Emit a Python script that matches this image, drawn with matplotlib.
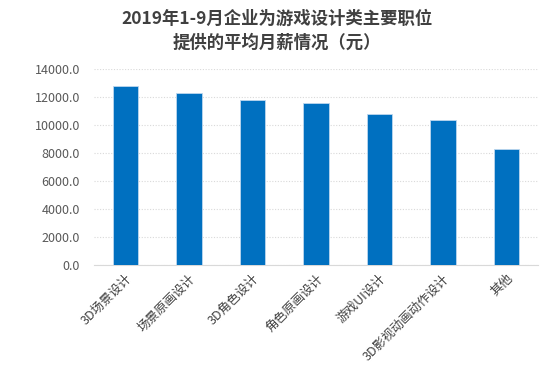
import matplotlib
matplotlib.use("Agg")
import matplotlib.pyplot as plt

categories = ["3D场景设计", "场景原画设计", "3D角色设计", "角色原画设计", "游戏UI设计", "3D影视动画动作设计", "其他"]
values = [12830, 12340, 11840, 11620, 10810, 10380, 8330]
yticks = [0, 2000, 4000, 6000, 8000, 10000, 12000, 14000]
title = "2019年1-9月企业为游戏设计类主要职位\n提供的平均月薪情况（元）"

plt.rcParams['font.family'] = ['Noto Sans CJK SC', 'DejaVu Sans']

fig = plt.figure(figsize=(5.48, 3.65), dpi=100)
ax = fig.add_axes([0.1715, 0.274, 0.8105, 0.536])

x = list(range(len(categories)))
ax.bar(x, values, width=0.40, color="#0070C0", edgecolor="#BDD7EE", linewidth=0.6, zorder=3)

ax.set_xlim(-0.5, len(categories) - 0.5)
ax.set_ylim(0, 14000)
ax.set_yticks(yticks)
ax.set_yticklabels([f"{v:.1f}" for v in yticks], fontsize=9, color="#595959")
ax.set_xticks(x)
ax.set_xticklabels(categories, rotation=45, ha="right", rotation_mode="anchor",
                   fontsize=9, color="#404040")
ax.tick_params(axis="both", length=0)
ax.tick_params(axis="y", pad=10)
ax.tick_params(axis="x", pad=5)

ax.grid(axis="y", linestyle=(0, (1, 1.5)), color="#D9D9D9", linewidth=0.8, zorder=0)
for s in ["top", "right", "left"]:
    ax.spines[s].set_visible(False)
ax.spines["bottom"].set_color("#D9D9D9")
ax.spines["bottom"].set_linewidth(0.8)

fig.text(0.506, 0.972, title, ha="center", va="top", fontsize=12.5,
         fontweight="bold", color="#404040", linespacing=1.4)

fig.savefig("out.png", dpi=100, facecolor="white")
